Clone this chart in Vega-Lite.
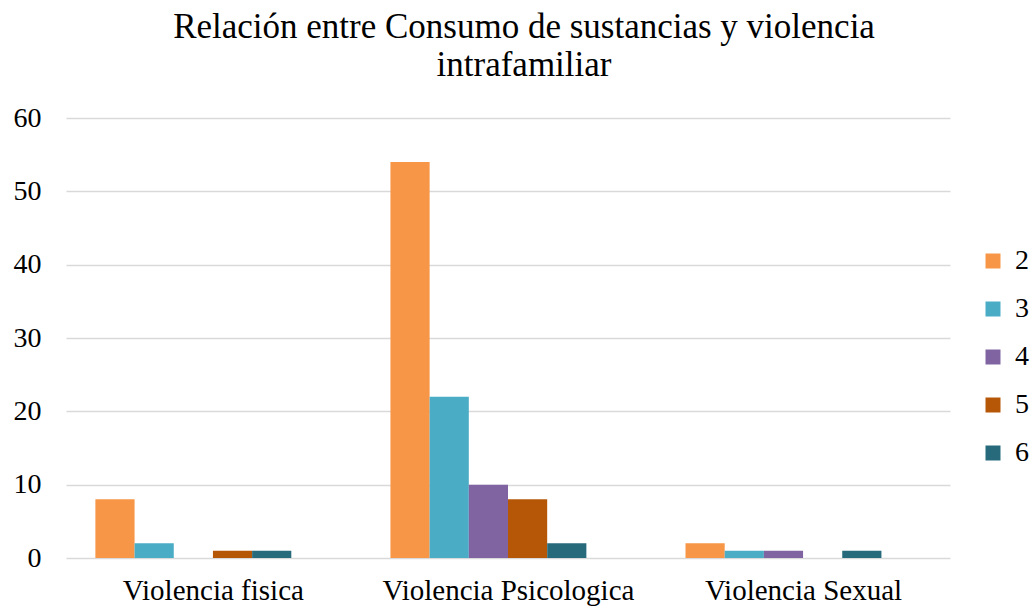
{
  "$schema": "https://vega.github.io/schema/vega-lite/v6.json",
  "autosize": "none",
  "width": 884,
  "height": 440,
  "padding": {"left": 66, "top": 118, "right": 83, "bottom": 51},
  "background": "white",
  "config": {
    "font": "Liberation Serif, Times New Roman, serif",
    "view": {"stroke": null},
    "axis": {"labelFont": "Liberation Serif, Times New Roman, serif"},
    "legend": {"labelFont": "Liberation Serif, Times New Roman, serif"},
    "title": {"font": "Liberation Serif, Times New Roman, serif"}
  },
  "title": {
    "text": ["Relación entre Consumo de sustancias y violencia", "intrafamiliar"],
    "fontSize": 35,
    "fontWeight": "normal",
    "color": "#000000",
    "lineHeight": 38,
    "anchor": "middle",
    "dx": 16,
    "offset": 21
  },
  "data": {
    "values": [
      {"categoria": "Violencia fisica", "serie": "2", "valor": 8},
      {"categoria": "Violencia fisica", "serie": "3", "valor": 2},
      {"categoria": "Violencia fisica", "serie": "4", "valor": 0},
      {"categoria": "Violencia fisica", "serie": "5", "valor": 1},
      {"categoria": "Violencia fisica", "serie": "6", "valor": 1},
      {"categoria": "Violencia Psicologica", "serie": "2", "valor": 54},
      {"categoria": "Violencia Psicologica", "serie": "3", "valor": 22},
      {"categoria": "Violencia Psicologica", "serie": "4", "valor": 10},
      {"categoria": "Violencia Psicologica", "serie": "5", "valor": 8},
      {"categoria": "Violencia Psicologica", "serie": "6", "valor": 2},
      {"categoria": "Violencia Sexual", "serie": "2", "valor": 2},
      {"categoria": "Violencia Sexual", "serie": "3", "valor": 1},
      {"categoria": "Violencia Sexual", "serie": "4", "valor": 1},
      {"categoria": "Violencia Sexual", "serie": "5", "valor": 0},
      {"categoria": "Violencia Sexual", "serie": "6", "valor": 1}
    ]
  },
  "mark": {"type": "bar"},
  "encoding": {
    "x": {
      "field": "categoria",
      "type": "nominal",
      "sort": ["Violencia fisica", "Violencia Psicologica", "Violencia Sexual"],
      "scale": {"paddingInner": 0.336, "paddingOuter": 0.166, "align": 0.3},
      "axis": {
        "title": null,
        "labelAngle": 0,
        "labelFontSize": 29,
        "labelColor": "#000000",
        "labelPadding": 18,
        "labelOffset": 20,
        "labelLimit": 0,
        "ticks": false,
        "domain": false,
        "grid": false
      }
    },
    "xOffset": {
      "field": "serie",
      "type": "nominal",
      "scale": {"domain": ["2", "3", "4", "5", "6"], "paddingInner": 0, "paddingOuter": 0}
    },
    "y": {
      "field": "valor",
      "type": "quantitative",
      "scale": {"domain": [0, 60]},
      "axis": {
        "title": null,
        "values": [0, 10, 20, 30, 40, 50, 60],
        "labelFontSize": 28,
        "labelColor": "#000000",
        "labelPadding": 25,
        "ticks": false,
        "domain": false,
        "grid": true,
        "gridColor": "#d9d9d9",
        "gridWidth": 1.5
      }
    },
    "color": {
      "field": "serie",
      "type": "nominal",
      "scale": {
        "domain": ["2", "3", "4", "5", "6"],
        "range": ["#F79646", "#4BACC6", "#8064A2", "#B65708", "#276A7C"]
      },
      "legend": {
        "title": null,
        "orient": "none",
        "legendX": 913,
        "legendY": 129,
        "symbolType": "square",
        "symbolSize": 225,
        "symbolStrokeWidth": 0,
        "labelFontSize": 28,
        "labelColor": "#000000",
        "labelOffset": 8,
        "labelLimit": 0,
        "rowPadding": 20
      }
    }
  }
}
